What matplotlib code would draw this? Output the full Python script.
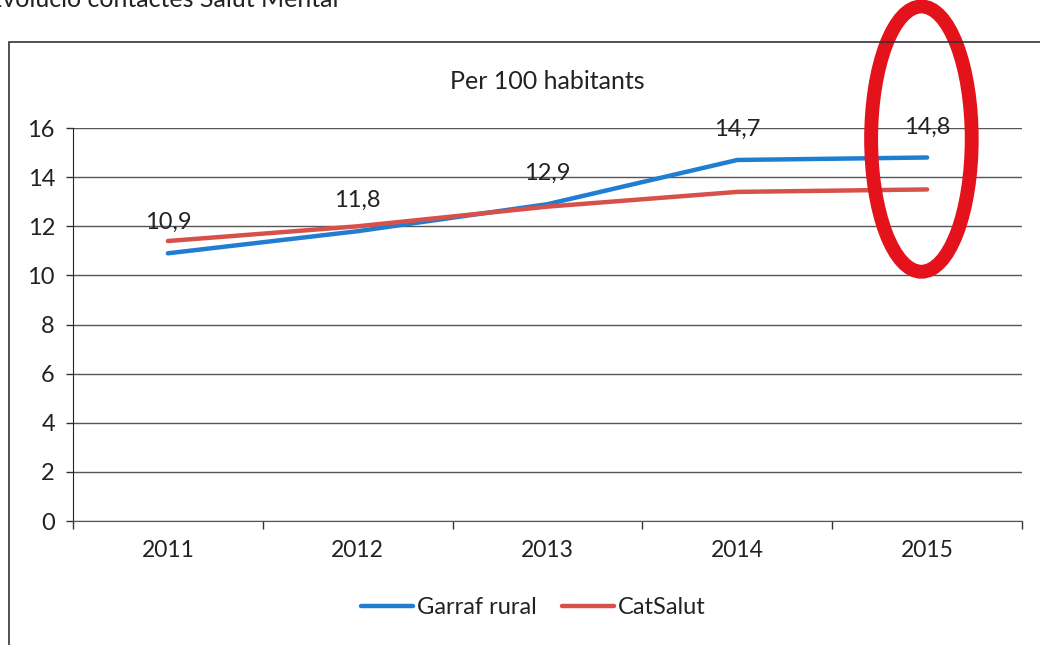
import matplotlib.pyplot as plt
from matplotlib.patches import Ellipse, Rectangle

plt.rcParams['font.family'] = ['Lato', 'DejaVu Sans']

years = ['2011', '2012', '2013', '2014', '2015']
garraf_rural = [10.9, 11.8, 12.9, 14.7, 14.8]
catsalut = [11.4, 12.0, 12.8, 13.4, 13.5]
y_ticks = [0, 2, 4, 6, 8, 10, 12, 14, 16]

blue = '#1f7ed2'
red = '#d8504a'
ink = '#222222'

fig = plt.figure(figsize=(10.4, 6.45), dpi=100)
ax = fig.add_axes([0.0702, 0.1922, 0.9125, 0.6093])

x = list(range(len(years)))
ax.plot(x, garraf_rural, color=blue, lw=3.2, solid_capstyle='round', label='Garraf rural', zorder=3)
ax.plot(x, catsalut, color=red, lw=3.2, solid_capstyle='round', label='CatSalut', zorder=3)

for xi, v in zip(x, garraf_rural):
    ax.annotate(f'{v:.1f}'.replace('.', ','), (xi, v), xytext=(0, 22),
                textcoords='offset points', ha='center', va='center',
                fontsize=17, color=ink, zorder=4)

ax.set_xlim(-0.5, len(years) - 0.5)
ax.set_ylim(0, 16)
ax.set_yticks(y_ticks)
ax.set_yticklabels([str(t) for t in y_ticks], fontsize=17, color=ink)
ax.set_xticks(x)
ax.set_xticklabels(years, fontsize=16.5, color=ink)
ax.set_xticks([i - 0.5 for i in range(len(years) + 1)], minor=True)
ax.tick_params(axis='x', which='major', length=0, pad=14)
ax.tick_params(axis='x', which='minor', length=6, width=1, color='#333333')
ax.tick_params(axis='y', length=5, width=1, color='#333333', pad=8)

ax.yaxis.grid(True, color='#555555', lw=1.0, zorder=1)
for side in ['top', 'right']:
    ax.spines[side].set_visible(False)
ax.spines['left'].set_color('#222222')
ax.spines['bottom'].set_color('#555555')

ax.set_title('Per 100 habitants', fontsize=18, color=ink, pad=28)

leg = ax.legend(loc='upper center', bbox_to_anchor=(0.485, -0.14), ncol=2,
                frameon=False, fontsize=17, handlelength=2.2,
                handletextpad=0.15, columnspacing=1.1)
for t in leg.get_texts():
    t.set_color(ink)

# highlight ring around the last year
ring = Ellipse((3.97, 15.55), width=0.53, height=10.8, fill=False,
               edgecolor='#e3121b', lw=10, clip_on=False, zorder=5)
ax.add_patch(ring)

# outer chart frame
fig.add_artist(Rectangle((0.009, -0.1), 1.2, 1.0351, transform=fig.transFigure,
                         fill=False, edgecolor='#333333', lw=1.2))

fig.text(-0.012, 0.989, 'Evolució contactes Salut Mental', fontsize=18,
         color=ink, ha='left', va='baseline')

fig.savefig('out.png', dpi=100)
